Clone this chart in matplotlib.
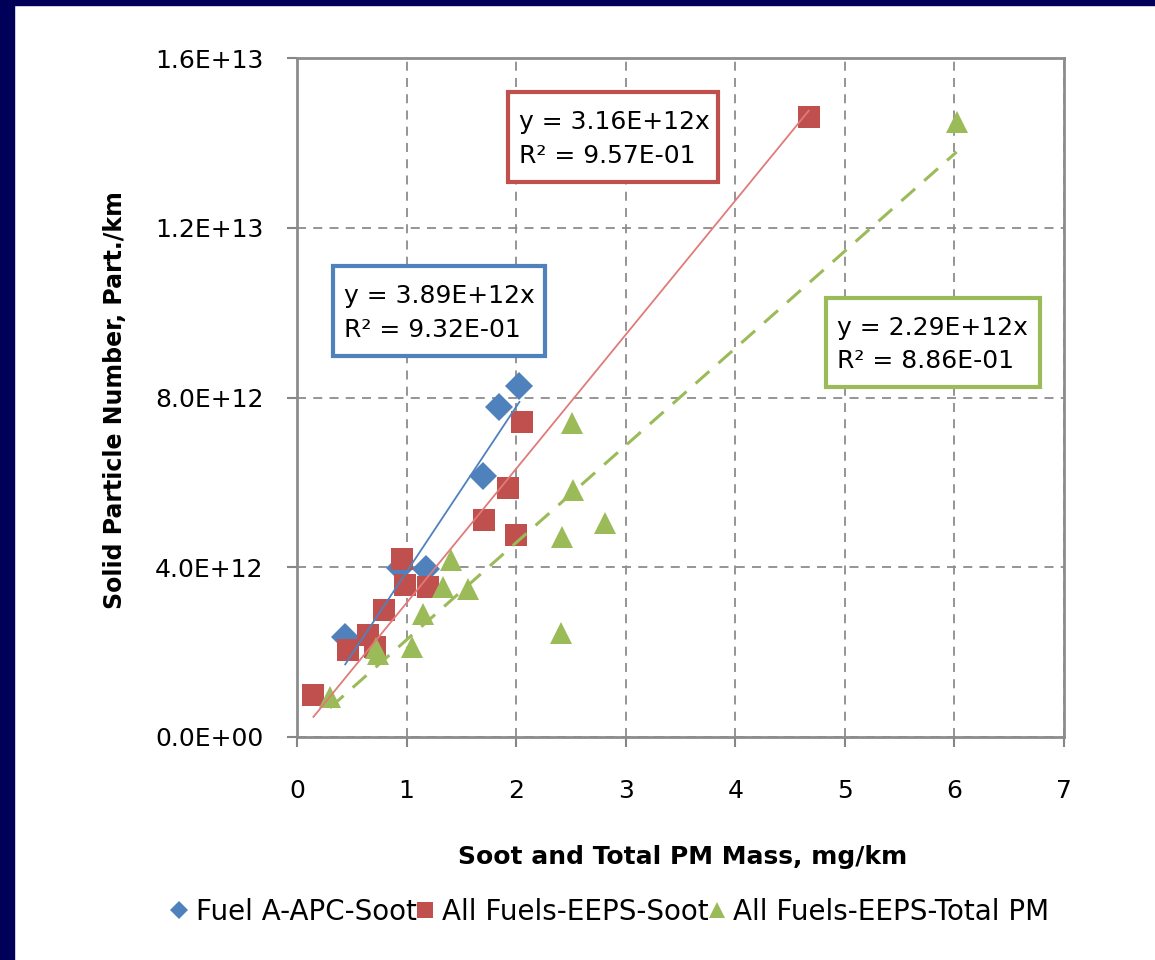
import matplotlib
matplotlib.use("Agg")
import matplotlib.pyplot as plt
from matplotlib.patches import Rectangle
from matplotlib.lines import Line2D
import numpy as np

# ---------------- data ----------------
series_names = ["Fuel A-APC-Soot", "All Fuels-EEPS-Soot", "All Fuels-EEPS-Total PM"]

blue_x = [0.44, 0.94, 1.18, 1.70, 1.84, 2.03]
blue_y = [2.36e12, 3.98e12, 3.97e12, 6.15e12, 7.78e12, 8.27e12]

red_x = [0.15, 0.47, 0.65, 0.71, 0.79, 0.96, 0.99, 1.20, 1.71, 1.93, 2.00, 2.05, 4.67]
red_y = [0.99e12, 2.05e12, 2.40e12, 2.13e12, 2.99e12, 4.19e12, 3.58e12, 3.54e12,
         5.11e12, 5.86e12, 4.76e12, 7.43e12, 14.6e12]

green_x = [0.30, 0.72, 0.74, 1.05, 1.15, 1.33, 1.41, 1.56, 2.41, 2.42, 2.52, 2.51, 2.81, 6.02]
green_y = [0.95e12, 2.10e12, 1.95e12, 2.13e12, 2.91e12, 3.54e12, 4.17e12, 3.48e12,
           2.44e12, 4.72e12, 5.82e12, 7.39e12, 5.05e12, 14.5e12]

slopes = [3.89e12, 3.16e12, 2.29e12]
r_squared = ["9.32E-01", "9.57E-01", "8.86E-01"]
slope_labels = ["3.89E+12", "3.16E+12", "2.29E+12"]

x_ticks = [0, 1, 2, 3, 4, 5, 6, 7]
y_ticks = [0, 4e12, 8e12, 12e12, 16e12]

# ---------------- style ----------------
plt.rcParams['font.family'] = ['DejaVu Sans']
FS = 18
colors = ["#4F81BD", "#C0504D", "#9BBB59"]
line_colors = ["#4F81BD", "#E07B79", "#9BBB59"]
W, H = 1155, 960

fig = plt.figure(figsize=(W / 100, H / 100), dpi=100, facecolor="white")

# slide background strips
fig.patches.append(Rectangle((0, 0), 14 / W, 1, transform=fig.transFigure, color="#000058", zorder=0))
fig.patches.append(Rectangle((0, 1 - 5 / H), 1, 5 / H, transform=fig.transFigure, color="#000058", zorder=0))

def fx(px):
    return px / W

def fy(py):
    return 1 - py / H

ax = fig.add_axes([fx(297), fy(737), fx(1064) - fx(297), fy(58) - fy(737)])
ax.set_xlim(0, 7)
ax.set_ylim(0, 1.6e13)
ax.set_xticks(x_ticks)
ax.set_yticks(y_ticks)
ax.set_xticklabels([str(v) for v in x_ticks])
ax.set_yticklabels([f"{v:.1E}" for v in y_ticks])
ax.tick_params(axis="both", colors="#868686", labelcolor="black", labelsize=FS,
               direction="out", length=7, width=1.5)
ax.tick_params(axis="x", pad=23)
ax.tick_params(axis="y", pad=17)
for s in ax.spines.values():
    s.set_color("#8C8C8C")
    s.set_linewidth(2)
ax.grid(True, color="#8C8C8C", linestyle=(0, (5, 4)), linewidth=1.3)
ax.set_axisbelow(True)

xs = [blue_x, red_x, green_x]
ys = [blue_y, red_y, green_y]
markers = ["D", "s", "^"]
msizes = [14, 16, 16]
for i in range(3):
    ax.plot(xs[i], ys[i], linestyle="none", marker=markers[i], markersize=msizes[i],
            color=colors[i], markeredgewidth=0, zorder=3 + i)

# trend lines through origin
styles = ["-", "-", (0, (6, 4))]
widths = [1.3, 1.3, 2.2]
for i in range(3):
    xx = np.array([min(xs[i]), max(xs[i])])
    ax.plot(xx, slopes[i] * xx, linestyle=styles[i], color=line_colors[i],
            linewidth=widths[i], zorder=7)

# equation boxes (left, top, right, bottom in pixels)
boxes = [(333, 266, 545, 356), (508, 92, 718, 182), (826, 298, 1040, 387)]
for i, (l, t, r, b) in enumerate(boxes):
    fig.patches.append(Rectangle((fx(l), fy(b)), fx(r) - fx(l), fy(t) - fy(b),
                                 transform=fig.transFigure, facecolor="white",
                                 edgecolor=colors[i], linewidth=3, zorder=10))
    fig.text(fx(l + 11), fy((t + b) / 2 + 2), f"y = {slope_labels[i]}x\nR² = {r_squared[i]}",
             ha="left", va="center", fontsize=FS, linespacing=1.5, zorder=11)

# axis titles
fig.text(fx(115), fy(400), "Solid Particle Number, Part./km", rotation=90,
         ha="center", va="center", fontsize=17, fontweight="bold")
fig.text(fx(683), fy(857), "Soot and Total PM Mass, mg/km",
         ha="center", va="center", fontsize=FS, fontweight="bold")

# legend
handles = [Line2D([], [], linestyle="none", marker=markers[i], color=colors[i],
                  markersize=[9, 11, 11][i], markeredgewidth=0) for i in range(3)]
fig.legend(handles, series_names, loc="center", bbox_to_anchor=(fx(610), fy(912)),
           ncol=3, frameon=False, fontsize=20, handlelength=0.6, handletextpad=0.3,
           columnspacing=0.0, borderpad=0)

fig.savefig("out.png", dpi=100, facecolor="white")
